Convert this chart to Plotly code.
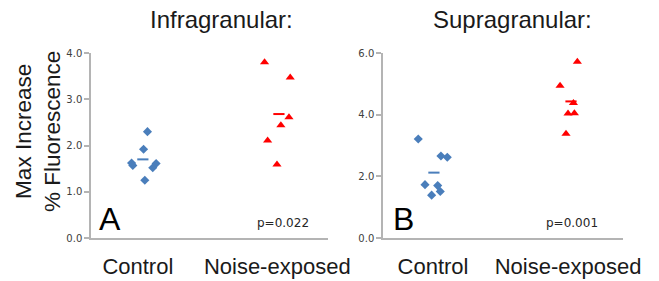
import plotly.graph_objects as go

categories = ["Control", "Noise-exposed"]

# Panel A: Infragranular
a_ctrl_x = [0.955, 0.964, 1.069, 1.041, 1.050, 1.107, 1.131]
a_ctrl_y = [1.62, 1.57, 2.30, 1.92, 1.25, 1.52, 1.61]
a_ctrl_mean_x = [1.036]
a_ctrl_mean = [1.70]
a_noise_x = [1.909, 2.093, 2.084, 2.026, 1.931, 1.998]
a_noise_y = [3.80, 3.47, 2.61, 2.44, 2.11, 1.59]
a_noise_mean_x = [2.012]
a_noise_mean = [2.68]
a_p = "p=0.022"

# Panel B: Supragranular
b_ctrl_x = [0.891, 1.059, 1.106, 0.941, 1.035, 0.990, 1.054]
b_ctrl_y = [3.21, 2.66, 2.62, 1.73, 1.70, 1.39, 1.51]
b_ctrl_mean_x = [1.007]
b_ctrl_mean = [2.12]
b_noise_x = [2.069, 1.941, 2.040, 2.000, 2.047, 1.985]
b_noise_y = [5.72, 4.94, 4.38, 4.04, 4.05, 3.38]
b_noise_mean_x = [2.022]
b_noise_mean = [4.43]
b_p = "p=0.001"

BLUE = "#4a7ebb"
RED = "#ff0000"
FONT = "Liberation Sans, Arial, sans-serif"
SMALL = "DejaVu Sans, sans-serif"
W, H = 659, 281

fig = go.Figure()

def add_panel(xa, ya, cx, cy, cmx, cm, nx, ny, nmx, nm):
    fig.add_trace(go.Scatter(x=cx, y=cy, mode="markers", xaxis=xa, yaxis=ya,
                             marker=dict(symbol="diamond", size=7, color=BLUE), showlegend=False))
    fig.add_trace(go.Scatter(x=cmx, y=cm, mode="markers", xaxis=xa, yaxis=ya,
                             marker=dict(symbol="line-ew", size=8, line=dict(color=BLUE, width=2)),
                             showlegend=False))
    fig.add_trace(go.Scatter(x=nx, y=ny, mode="markers", xaxis=xa, yaxis=ya,
                             marker=dict(symbol="triangle-up", size=8, color=RED), showlegend=False))
    fig.add_trace(go.Scatter(x=nmx, y=nm, mode="markers", xaxis=xa, yaxis=ya,
                             marker=dict(symbol="line-ew", size=8, line=dict(color=RED, width=2)),
                             showlegend=False))

add_panel("x", "y", a_ctrl_x, a_ctrl_y, a_ctrl_mean_x, a_ctrl_mean,
          a_noise_x, a_noise_y, a_noise_mean_x, a_noise_mean)
add_panel("x2", "y2", b_ctrl_x, b_ctrl_y, b_ctrl_mean_x, b_ctrl_mean,
          b_noise_x, b_noise_y, b_noise_mean_x, b_noise_mean)

ydom = [43 / H, 228 / H]
xcommon = dict(showgrid=False, zeroline=False, showline=True, linecolor="#b4b4b4", linewidth=1.5,
               ticks="", tickvals=[1, 2], ticktext=categories, automargin=False,
               tickfont=dict(family=FONT, size=22, color="#1a1a1a"), ticklabelstandoff=8)
ycommon = dict(showgrid=False, zeroline=False, showline=True, linecolor="#b4b4b4", linewidth=1.5,
               ticks="outside", ticklen=5, tickcolor="#b4b4b4", tickwidth=1.5, automargin=False,
               tickformat=".1f", tickfont=dict(family=SMALL, size=10, color="#404040"),
               domain=ydom)

fig.update_layout(
    width=W, height=H, margin=dict(l=0, r=0, t=0, b=0, autoexpand=False),
    paper_bgcolor="white", plot_bgcolor="white",
    xaxis=dict(domain=[91 / W, 328 / W], range=[0.664, 2.364], **xcommon),
    yaxis=dict(range=[0, 4], dtick=1, anchor="x", **ycommon),
    xaxis2=dict(domain=[383 / W, 623 / W], range=[0.630, 2.407], anchor="y2", **xcommon),
    yaxis2=dict(range=[0, 6], dtick=2, anchor="x2", **ycommon),
)

def note(text, px, py, size, family=FONT, color="#1a1a1a", angle=0):
    return dict(text=text, x=px / W, y=1 - py / H, xref="paper", yref="paper",
                xanchor="center", yanchor="middle", showarrow=False, textangle=angle,
                font=dict(family=family, size=size, color=color))

ann = [
    note("Infragranular:", 221, 19, 24),
    note("Supragranular:", 512, 19, 24),
    note("Max Increase<br>% Fluorescence", 38, 132, 22.5, angle=-90),
    note("A", 110, 219, 32, color="black"),
    note("B", 403, 219, 32, color="black"),
    note(a_p, 283, 223, 12, family=SMALL, color="#262626"),
    note(b_p, 572, 223, 12, family=SMALL, color="#262626"),
]
fig.update_layout(annotations=ann)

fig.write_html("out.html", config={"displayModeBar": False},
               post_script="document.body.style.margin='0px';")
